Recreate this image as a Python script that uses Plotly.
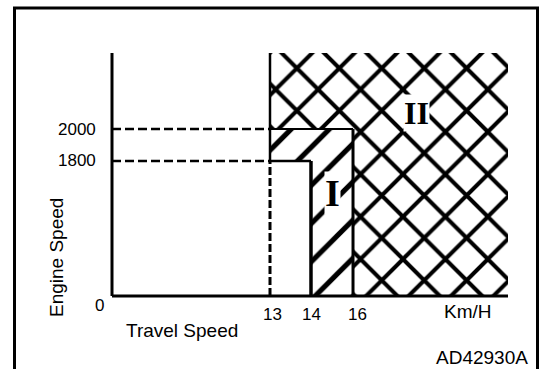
import numpy as np
import plotly.graph_objects as go

# Reference values (km/h and rpm)
speed_ticks = [0, 13, 14, 16]
engine_ticks = [0, 1800, 2000]
engine_labels = ["0", "1800", "2000"]
speed_labels = ["13", "14", "16"]

# Region I: boundary of the single-hatched band
region1_speed = [13, 16, 16, 14, 14, 13]
region1_engine = [2000, 2000, 0, 0, 1800, 1800]

# Region II: open-ended cross-hatched area (beyond 16 km/h and above 2000 rpm)
region2_speed = [13, None, None, 16, 16, 13]      # None = axis end
region2_engine = [None, None, 0, 0, 2000, 2000]   # None = axis top

# Schematic (not-to-scale) axis: fraction of axis length at each reference value
speed_pos = [0.0, 0.399, 0.5025, 0.6086]
engine_pos = [0.0, 0.5556, 0.687]
AXIS_END = 1.0


def sx(v):
    return AXIS_END if v is None else float(np.interp(v, speed_ticks, speed_pos))


def sy(v):
    return AXIS_END if v is None else float(np.interp(v, engine_ticks, engine_pos))


W, H = 539, 369
ML, MR, MT, MB = 106, 25, 47, 67
PAD_X = 6 / 396
PAD_Y = 6 / 243

FONT = "Liberation Sans, Arial, sans-serif"
SERIF = "Liberation Serif, Times New Roman, DejaVu Serif, serif"

fig = go.Figure()

# Cross-hatched region II
fig.add_trace(go.Scatter(
    x=[sx(v) for v in region2_speed], y=[sy(v) for v in region2_engine],
    mode="lines", fill="toself", line=dict(width=0, color="black"),
    fillcolor="white",
    fillpattern=dict(shape="x", fgcolor="black", bgcolor="white", fgopacity=1,
                     fillmode="replace", size=30, solidity=0.25),
    hoverinfo="skip", showlegend=False,
))

# Single-hatched region I
fig.add_trace(go.Scatter(
    x=[sx(v) for v in region1_speed], y=[sy(v) for v in region1_engine],
    mode="lines", fill="toself", line=dict(width=0, color="black"),
    fillcolor="white",
    fillpattern=dict(shape="/", fgcolor="black", bgcolor="white", fgopacity=1,
                     fillmode="replace", size=27, solidity=0.19),
    hoverinfo="skip", showlegend=False,
))


def seg(x0, y0, x1, y1, width=3, dash=None):
    fig.add_shape(type="line", xref="x", yref="y", x0=x0, y0=y0, x1=x1, y1=y1,
                  line=dict(color="black", width=width, dash=dash), layer="above")


# Axes
seg(0, 0, 0, AXIS_END, width=3)
seg(0, 0, AXIS_END, 0, width=3)

# Dashed reference lines
seg(0, sy(2000), sx(13), sy(2000), width=2.5, dash="9px,4px")
seg(0, sy(1800), sx(13), sy(1800), width=2.5, dash="9px,4px")
seg(sx(13), 0, sx(13), sy(1800), width=3, dash="8px,3px")

# Region boundaries
seg(sx(13), sy(1800), sx(13), AXIS_END, width=2.5)
seg(sx(13), sy(2000), sx(16), sy(2000), width=2)
seg(sx(13), sy(1800), sx(14), sy(1800), width=2.5)
seg(sx(14), 0, sx(14), sy(1800), width=3.5)
seg(sx(16), 0, sx(16), sy(2000), width=3)


# Outer frame (open at the bottom edge of the page)
def px_x(p):
    return (p - ML) / (W - ML - MR)


def px_y(p):
    return (H - MB - p) / (H - MT - MB)


fig.add_shape(type="path", xref="paper", yref="paper",
              path=(f"M{px_x(14.5)},{px_y(372)} L{px_x(14.5)},{px_y(8)} "
                    f"L{px_x(537.5)},{px_y(8)} L{px_x(537.5)},{px_y(372)}"),
              line=dict(color="black", width=3), layer="above")

ann = []
for v, lab in zip(engine_ticks[1:], engine_labels[1:]):
    ann.append(dict(x=0, y=sy(v), text=lab, xanchor="right", xshift=-14,
                    font=dict(size=17)))
ann.append(dict(x=0, y=0, text=engine_labels[0], xanchor="center", xshift=-13, yshift=-9,
                font=dict(size=17)))
for v, lab, dx in zip(speed_ticks[1:], speed_labels, [2, 1, 4]):
    ann.append(dict(x=sx(v), y=0, text=lab, xanchor="center", xshift=dx, yshift=-18,
                    font=dict(size=17)))
ann.append(dict(x=AXIS_END, y=0, text="Km/H", xanchor="right", xshift=-14, yshift=-15,
                font=dict(size=19)))
ann.append(dict(x=0, y=0, text="Travel Speed", xanchor="left", xshift=12, yshift=-34,
                font=dict(size=19)))
ann.append(dict(x=0, y=0, text="Engine Speed", textangle=-90, xshift=-56, yshift=38,
                font=dict(size=19)))
ann.append(dict(x=AXIS_END, y=0, text="AD42930A", xanchor="right", xshift=22, yshift=-61,
                font=dict(size=19)))
ann.append(dict(x=(sx(14) + sx(16)) / 2, y=0.424, text="<b>I</b>",
                font=dict(size=38, family=SERIF), bgcolor="white", borderpad=0))
ann.append(dict(x=0.770, y=0.753, text="<b>II</b>",
                font=dict(size=32, family=SERIF), bgcolor="white", borderpad=0))
for a in ann:
    a.setdefault("showarrow", False)
    a.setdefault("xref", "x")
    a.setdefault("yref", "y")

fig.update_layout(
    width=W, height=H,
    margin=dict(l=ML, r=MR, t=MT, b=MB),
    paper_bgcolor="white", plot_bgcolor="white",
    font=dict(family=FONT, color="black", size=19),
    xaxis=dict(range=[-PAD_X, 1 + PAD_X], visible=False, fixedrange=True),
    yaxis=dict(range=[-PAD_Y, 1 + PAD_Y], visible=False, fixedrange=True),
    annotations=ann,
    showlegend=False,
)

fig.write_html("out.html")
